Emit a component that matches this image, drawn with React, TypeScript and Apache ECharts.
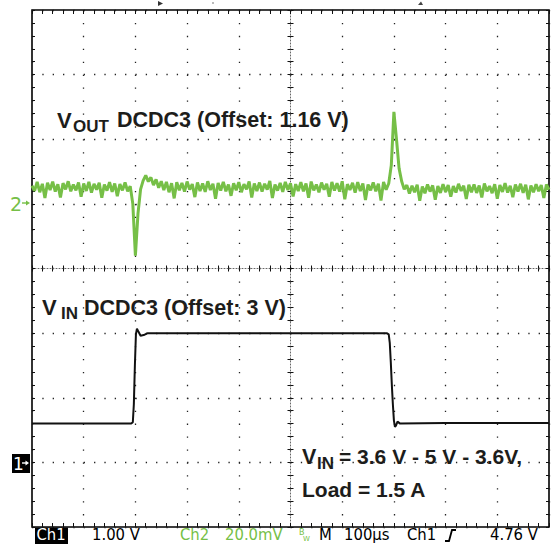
import React, { useEffect, useRef } from "react";
import * as echarts from "echarts";

// ---- data ----
// time axis: 100 us/div, 10 divisions
const TIME_MIN_US = 0;
const TIME_MAX_US = 1000;
const TIME_DIV_US = 100;

// Ch1: input voltage, 1.00 V/div, offset 3 V (absolute volts)
const CH1_T_US = [0, 60, 120, 192, 195, 197, 199, 201, 203, 206, 210, 216, 224, 300, 400, 500, 600, 686, 690, 692, 694, 696, 698, 700, 702, 704, 707, 712, 800, 900, 1000];
const CH1_V = [3.6, 3.6, 3.6, 3.6, 3.62, 3.9, 4.5, 4.98, 5.07, 5.02, 4.96, 4.97, 5.0, 5.0, 5.0, 5.0, 5.0, 5.0, 4.98, 4.85, 4.55, 4.2, 3.9, 3.65, 3.55, 3.57, 3.63, 3.6, 3.61, 3.61, 3.61];

// Ch2: output voltage deviation, 20.0 mV/div, offset 1.16 V (mV relative to offset), sampled every 5 us
const CH2_SAMPLE_US = 5;
const CH2_MV = [
  5.6, 4.0, 6.8, 3.6, 6.2, 1.8, 6.5, 4.3, 6.9, 3.8,
  6.1, 2.0, 6.4, 4.5, 7.0, 3.9, 6.0, 4.2, 6.6, 2.2,
  6.3, 4.0, 6.8, 3.5, 6.2, 4.4, 6.5, 1.9, 6.0, 4.1,
  6.7, 3.7, 6.3, 2.4, 6.1, 4.2, 6.6, 3.9, 5.5, 0.0,
  -16, -3, 4.5, 7.2, 8.8, 6.9, 8.2, 5.8, 7.6, 5.0,
  7.0, 4.3, 6.8, 3.6, 6.4, 1.7, 6.7, 4.2, 6.5, 3.8,
  6.9, 4.4, 6.1, 2.1, 6.6, 4.0, 6.3, 3.7, 7.0, 4.3,
  6.2, 1.6, 6.5, 4.1, 6.8, 3.9, 6.0, 2.5, 6.4, 4.2,
  6.7, 3.6, 6.1, 4.5, 6.9, 2.0, 6.3, 4.0, 6.6, 3.8,
  6.2, 4.4, 7.1, 1.8, 6.0, 4.1, 6.5, 3.7, 6.8, 4.3,
  6.4, 2.3, 6.1, 4.0, 6.7, 3.9, 6.3, 1.9, 6.9, 4.2,
  6.0, 3.6, 6.6, 4.4, 6.2, 2.2, 6.8, 4.1, 6.4, 3.8,
  7.0, 1.4, 6.1, 4.3, 6.5, 3.5, 6.7, 4.0, 6.3, 1.2,
  6.0, 4.2, 6.6, 3.9, 6.2, 1.0, 6.8, 4.4, 6.3, 12,
  28.5, 20, 11, 7, 4.5, 5.8, 3.2, 5.6, 3.6, 5.9,
  1.0, 5.4, 3.3, 6.0, 3.8, 5.7, 1.3, 5.5, 3.4, 6.1,
  3.7, 5.8, 2.2, 5.5, 3.5, 6.2, 4.0, 5.6, 1.5, 5.9,
  3.6, 6.0, 3.4, 5.7, 2.0, 6.3, 3.9, 5.5, 3.3, 6.1,
  1.6, 5.8, 3.7, 6.4, 3.5, 5.6, 2.1, 6.0, 3.8, 6.2,
  3.4, 5.9, 1.4, 5.7, 3.6, 6.1, 3.9, 5.8, 1.8, 6.0,
  4.4,
];

// vertical scales in divisions (8 divisions on screen, centre = 0)
const DIV_MIN = -4;
const DIV_MAX = 4;
const CH1_VOLTS_PER_DIV = 1.0;
const CH1_OFFSET_V = 3;
const CH1_MARKER_DIV = -3;
const CH2_MV_PER_DIV = 20;
const CH2_MARKER_DIV = 1;

// texts
const LABEL_VOUT = ["V", "OUT", "DCDC3 (Offset: 1.16 V)"];
const LABEL_VIN = ["V", "IN", "DCDC3 (Offset: 3 V)"];
const NOTE_LINE1 = ["V", "IN", "= 3.6 V - 5 V - 3.6V,"];
const NOTE_LINE2 = "Load = 1.5 A";
const STATUS = { ch1: "Ch1", ch1Scale: "1.00 V", ch2: "Ch2", ch2Scale: "20.0mV", m: "M", time: "100µs", trig: "Ch1", level: "4.76 V" };

const GREEN = "#76bf47";
const INK = "#1d1d1b";

export default function App() {
  const ref = useRef<HTMLDivElement>(null);

  useEffect(() => {
    if (!ref.current) return;
    const chart = echarts.init(ref.current, undefined, { renderer: "svg" });

    const GL = 32, GT = 10, GW = 517, GH = 517;
    const minorX = GW / 50;
    const minorY = GH / 40;

    const ch1Data = CH1_T_US.map((t, i) => [t, CH1_V[i]]);
    const ch2Data = CH2_MV.map((v, i) => [i * CH2_SAMPLE_US, v]);

    // hidden channel axes: map native units so that marker positions match
    const ch1Min = CH1_OFFSET_V + (DIV_MIN - CH1_MARKER_DIV) * CH1_VOLTS_PER_DIV;
    const ch1Max = CH1_OFFSET_V + (DIV_MAX - CH1_MARKER_DIV) * CH1_VOLTS_PER_DIV;
    const ch2Min = (DIV_MIN - CH2_MARKER_DIV) * CH2_MV_PER_DIV;
    const ch2Max = (DIV_MAX - CH2_MARKER_DIV) * CH2_MV_PER_DIV;

    const tickStyle = { color: "#111", width: 1 };
    const baseX = {
      type: "value",
      min: TIME_MIN_US,
      max: TIME_MAX_US,
      interval: TIME_DIV_US,
      axisLabel: { show: false },
      axisLine: { show: false, onZero: false },
      splitLine: { show: false },
    };
    const baseY = {
      type: "value",
      min: DIV_MIN,
      max: DIV_MAX,
      interval: 1,
      axisLabel: { show: false },
      axisLine: { show: false, onZero: false },
      splitLine: { show: false },
    };

    const sFont = "DejaVu Sans";
    const sSize = 16.5;
    const sY = 534;
    const sx = 0.9;
    const statusText = (text: string, x: number, fill: string) => ({
      type: "text",
      x,
      y: sY,
      scaleX: sx,
      style: { text, fill, fontSize: sSize, fontFamily: sFont, verticalAlign: "middle", align: "left" },
      z: 20,
    });
    const boldText = (text: string, x: number, y: number, size: number) => ({
      type: "text",
      x,
      y,
      style: { text, fill: INK, fontSize: size, fontWeight: "bold", fontFamily: "Liberation Sans, Arial, sans-serif", verticalAlign: "middle", align: "left" },
      z: 20,
    });

    const option: any = {
      animation: false,
      backgroundColor: "#fff",
      grid: { left: GL, top: GT, width: GW, height: GH, show: true, borderColor: "#000", borderWidth: 1.6, backgroundColor: "#fff" },
      xAxis: [
        {
          ...baseX,
          position: "bottom",
          axisTick: { show: true, inside: true, length: 4, lineStyle: tickStyle },
          minorTick: { show: true, splitNumber: 5, length: 4, lineStyle: tickStyle },
          splitLine: { show: true, lineStyle: { color: "#222", width: 1.3, type: [1.3, minorY - 1.3] } },
        },
        {
          ...baseX,
          position: "top",
          axisTick: { show: true, inside: true, length: 4, lineStyle: tickStyle },
          minorTick: { show: true, splitNumber: 5, length: 4, lineStyle: tickStyle },
        },
        {
          ...baseX,
          position: "bottom",
          offset: -GH / 2,
          axisLine: { show: true, onZero: false, lineStyle: { color: "#666", width: 1, type: [1, 2] } },
          axisTick: { show: true, inside: false, length: 3, lineStyle: tickStyle },
          minorTick: { show: true, splitNumber: 5, length: 3, lineStyle: tickStyle },
        },
        {
          ...baseX,
          position: "bottom",
          offset: -GH / 2,
          axisTick: { show: true, inside: true, length: 3, lineStyle: tickStyle },
          minorTick: { show: true, splitNumber: 5, length: 3, lineStyle: tickStyle },
        },
      ],
      yAxis: [
        {
          ...baseY,
          position: "left",
          axisTick: { show: true, inside: true, length: 3, lineStyle: tickStyle },
          minorTick: { show: true, splitNumber: 5, length: 3, lineStyle: tickStyle },
          splitLine: { show: true, lineStyle: { color: "#222", width: 1.3, type: [1.3, minorX - 1.3] } },
        },
        {
          ...baseY,
          position: "right",
          axisTick: { show: true, inside: true, length: 3, lineStyle: tickStyle },
          minorTick: { show: true, splitNumber: 5, length: 3, lineStyle: tickStyle },
        },
        {
          ...baseY,
          position: "left",
          offset: -GW / 2,
          axisLine: { show: true, onZero: false, lineStyle: { color: "#666", width: 1, type: [1, 2] } },
          axisTick: { show: true, inside: false, length: 3, lineStyle: tickStyle },
          minorTick: { show: true, splitNumber: 5, length: 3, lineStyle: tickStyle },
        },
        {
          ...baseY,
          position: "left",
          offset: -GW / 2,
          axisTick: { show: true, inside: true, length: 3, lineStyle: tickStyle },
          minorTick: { show: true, splitNumber: 5, length: 3, lineStyle: tickStyle },
        },
        { type: "value", min: ch1Min, max: ch1Max, show: false },
        { type: "value", min: ch2Min, max: ch2Max, show: false },
      ],
      series: [
        {
          name: "Ch2",
          type: "line",
          xAxisIndex: 0,
          yAxisIndex: 5,
          data: ch2Data,
          symbol: "none",
          lineStyle: { color: GREEN, width: 3 },
          z: 5,
        },
        {
          name: "Ch1",
          type: "line",
          xAxisIndex: 0,
          yAxisIndex: 4,
          data: ch1Data,
          symbol: "none",
          lineStyle: { color: "#111", width: 2 },
          z: 6,
        },
      ],
      graphic: [
        // annotations
        boldText(LABEL_VOUT[0], 57, 120, 22),
        boldText(LABEL_VOUT[1], 73, 126.5, 17),
        boldText(LABEL_VOUT[2], 117, 120, 21.5),
        boldText(LABEL_VIN[0], 42, 307.5, 22),
        boldText(LABEL_VIN[1], 61, 313.5, 17),
        boldText(LABEL_VIN[2], 84, 307.5, 21.5),
        boldText(NOTE_LINE1[0], 302, 456.5, 21.5),
        boldText(NOTE_LINE1[1], 317, 463, 17),
        boldText(NOTE_LINE1[2], 339, 456.5, 21),
        boldText(NOTE_LINE2, 302, 489, 21),
        // channel 2 marker
        { type: "text", x: 10, y: 204, style: { text: "2", fill: GREEN, fontSize: 19, fontFamily: sFont, verticalAlign: "middle" }, z: 20 },
        { type: "line", shape: { x1: 22, y1: 203, x2: 28, y2: 203 }, style: { stroke: GREEN, lineWidth: 1.4 }, z: 20 },
        { type: "polygon", shape: { points: [[26, 200.5], [30, 203], [26, 205.5]] }, style: { fill: GREEN }, z: 20 },
        // channel 1 marker
        { type: "rect", shape: { x: 12, y: 454, width: 18, height: 19 }, style: { fill: "#000" }, z: 20 },
        { type: "text", x: 13, y: 464, style: { text: "1", fill: "#fff", fontSize: 17, fontFamily: sFont, verticalAlign: "middle" }, z: 21 },
        { type: "line", shape: { x1: 22, y1: 463, x2: 27, y2: 463 }, style: { stroke: "#fff", lineWidth: 1.4 }, z: 21 },
        { type: "polygon", shape: { points: [[25.5, 460.5], [29, 463], [25.5, 465.5]] }, style: { fill: "#fff" }, z: 21 },
        // top position markers
        { type: "polygon", shape: { points: [[158, 1], [163, 3.5], [158, 6]] }, style: { fill: "#333" }, z: 20 },
        { type: "rect", shape: { x: 212, y: 2, width: 2, height: 2 }, style: { fill: "#bbb" }, z: 20 },
        { type: "polygon", shape: { points: [[418, 5], [421, 1.5], [423, 5]] }, style: { fill: "#444" }, z: 20 },
        // status bar
        { type: "rect", shape: { x: 35, y: 527.5, width: 33, height: 16.5 }, style: { fill: "#000" }, z: 19 },
        statusText(STATUS.ch1, 36.5, "#fff"),
        statusText(STATUS.ch1Scale, 92, "#000"),
        statusText(STATUS.ch2, 180, GREEN),
        statusText(STATUS.ch2Scale, 225, GREEN),
        { type: "text", x: 299, y: 532, style: { text: "B", fill: GREEN, fontSize: 8, fontFamily: sFont, verticalAlign: "middle" }, z: 20 },
        { type: "text", x: 303, y: 539, style: { text: "W", fill: GREEN, fontSize: 7, fontFamily: sFont, verticalAlign: "middle" }, z: 20 },
        statusText(STATUS.m, 319, "#000"),
        statusText(STATUS.time, 344, "#000"),
        statusText(STATUS.trig, 407, "#000"),
        { type: "polyline", shape: { points: [[445, 541], [449, 541], [452, 530], [456, 530]] }, style: { stroke: "#000", lineWidth: 1.8, fill: null }, z: 20 },
        statusText(STATUS.level, 490, "#000"),
      ],
    };

    chart.setOption(option);
    return () => chart.dispose();
  }, []);

  return (
    <div
      ref={ref}
      style={{ position: "fixed", left: 0, top: 0, width: 557, height: 544, background: "#fff" }}
    />
  );
}
